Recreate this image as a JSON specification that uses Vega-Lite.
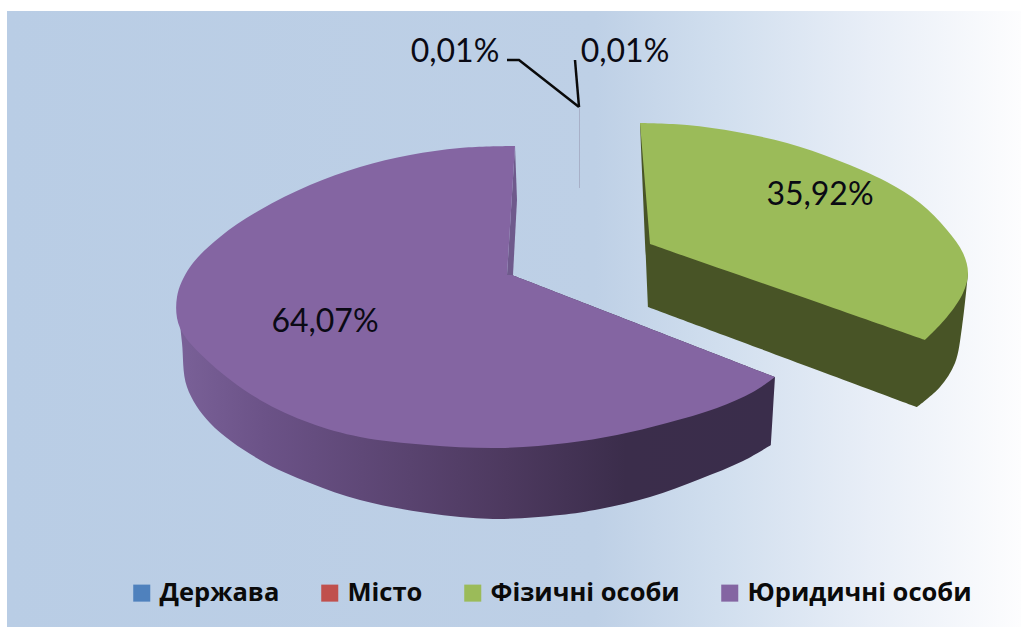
{
"$schema":"https://vega.github.io/schema/vega-lite/v6.json",
"width":1021,"height":627,"padding":0,"autosize":"none",
"background":"white",
"view":{"stroke":null},
"datasets":{
"panel":[{"x":0.7,"x2":102.1,"y":1.1,"y2":62.7}],
"shares":[
{"slice":"Держава","share":0.01,"label":"0,01%","x":45.5,"y":5.2},
{"slice":"Місто","share":0.01,"label":"0,01%","x":62.5,"y":5.2},
{"slice":"Фізичні особи","share":35.92,"label":"35,92%","x":82.0,"y":19.5},
{"slice":"Юридичні особи","share":64.07,"label":"64,07%","x":32.5,"y":32.2}
],
"leaders":[
{"leader":"Держава","i":1,"x":50.7,"y":6.0},{"leader":"Держава","i":2,"x":51.9,"y":6.0},{"leader":"Держава","i":3,"x":57.9,"y":10.7},
{"leader":"Місто","i":1,"x":57.9,"y":10.7},{"leader":"Місто","i":2,"x":57.5,"y":6.0}
],
"sliver":[{"slice":"Держава","x":57.95,"y":10.7,"y2":18.8}],
"outlines":[
{"slice":"Фізичні особи","part":"side","i":1,"x":64.0,"y":12.3},{"slice":"Фізичні особи","part":"side","i":1.5,"x":64.0,"y":12.3},{"slice":"Фізичні особи","part":"side","i":3,"x":64.8,"y":30.7},{"slice":"Фізичні особи","part":"side","i":3.5,"x":64.8,"y":30.7},{"slice":"Фізичні особи","part":"side","i":4,"x":91.7,"y":40.7},{"slice":"Фізичні особи","part":"side","i":4.5,"x":91.7,"y":40.7},{"slice":"Фізичні особи","part":"side","i":5,"x":94.0,"y":38.7},{"slice":"Фізичні особи","part":"side","i":6,"x":95.5,"y":36.3},{"slice":"Фізичні особи","part":"side","i":7,"x":96.2,"y":32.7},{"slice":"Фізичні особи","part":"side","i":9,"x":96.8,"y":27.3},{"slice":"Фізичні особи","part":"side","i":9.5,"x":96.8,"y":27.3},{"slice":"Фізичні особи","part":"side","i":10,"x":80.0,"y":20.0},
{"slice":"Фізичні особи","part":"top","i":1,"x":64.0,"y":12.3},{"slice":"Фізичні особи","part":"top","i":1.5,"x":64.0,"y":12.3},{"slice":"Фізичні особи","part":"top","i":2,"x":68.7,"y":12.5},{"slice":"Фізичні особи","part":"top","i":3,"x":73.7,"y":13.2},{"slice":"Фізичні особи","part":"top","i":4,"x":78.7,"y":14.3},{"slice":"Фізичні особи","part":"top","i":5,"x":83.7,"y":16.0},{"slice":"Фізичні особи","part":"top","i":6,"x":88.7,"y":18.2},{"slice":"Фізичні особи","part":"top","i":7,"x":92.0,"y":20.3},{"slice":"Фізичні особи","part":"top","i":8,"x":94.7,"y":23.0},{"slice":"Фізичні особи","part":"top","i":9,"x":96.3,"y":25.3},{"slice":"Фізичні особи","part":"top","i":10,"x":96.8,"y":27.3},{"slice":"Фізичні особи","part":"top","i":11,"x":96.3,"y":29.3},{"slice":"Фізичні особи","part":"top","i":12,"x":94.7,"y":31.7},{"slice":"Фізичні особи","part":"top","i":13,"x":92.5,"y":34.0},{"slice":"Фізичні особи","part":"top","i":13.5,"x":92.5,"y":34.0},{"slice":"Фізичні особи","part":"top","i":14,"x":65.0,"y":24.4},{"slice":"Фізичні особи","part":"top","i":14.5,"x":65.0,"y":24.4},
{"slice":"Юридичні особи","part":"side","i":1,"x":17.7,"y":29.7},{"slice":"Юридичні особи","part":"side","i":1.5,"x":17.9,"y":31.5},{"slice":"Юридичні особи","part":"side","i":2,"x":18.2,"y":34.3},{"slice":"Юридичні особи","part":"side","i":3,"x":18.7,"y":38.7},{"slice":"Юридичні особи","part":"side","i":4,"x":21.0,"y":42.3},{"slice":"Юридичні особи","part":"side","i":5,"x":26.0,"y":46.0},{"slice":"Юридичні особи","part":"side","i":6,"x":31.0,"y":48.3},{"slice":"Юридичні особи","part":"side","i":7,"x":36.0,"y":50.0},{"slice":"Юридичні особи","part":"side","i":8,"x":42.7,"y":51.3},{"slice":"Юридичні особи","part":"side","i":9,"x":49.3,"y":51.9},{"slice":"Юридичні особи","part":"side","i":10,"x":56.0,"y":51.5},{"slice":"Юридичні особи","part":"side","i":11,"x":60.0,"y":50.9},{"slice":"Юридичні особи","part":"side","i":12,"x":65.0,"y":49.7},{"slice":"Юридичні особи","part":"side","i":13,"x":70.0,"y":47.9},{"slice":"Юридичні особи","part":"side","i":14,"x":74.3,"y":46.1},{"slice":"Юридичні особи","part":"side","i":15,"x":77.1,"y":44.5},{"slice":"Юридичні особи","part":"side","i":15.5,"x":77.1,"y":44.5},{"slice":"Юридичні особи","part":"side","i":16,"x":77.5,"y":37.7},{"slice":"Юридичні особи","part":"side","i":16.5,"x":77.5,"y":37.7},{"slice":"Юридичні особи","part":"side","i":17,"x":51.2,"y":27.5},{"slice":"Юридичні особи","part":"side","i":17.5,"x":51.2,"y":27.5},
{"slice":"Юридичні особи","part":"wall","i":1,"x":51.5,"y":14.6},{"slice":"Юридичні особи","part":"wall","i":2,"x":51.7,"y":20.0},{"slice":"Юридичні особи","part":"wall","i":3,"x":51.3,"y":27.5},{"slice":"Юридичні особи","part":"wall","i":4,"x":50.7,"y":27.5},
{"slice":"Юридичні особи","part":"top","i":1,"x":51.5,"y":14.6},{"slice":"Юридичні особи","part":"top","i":1.5,"x":51.5,"y":14.6},{"slice":"Юридичні особи","part":"top","i":2,"x":46.0,"y":14.8},{"slice":"Юридичні особи","part":"top","i":3,"x":41.0,"y":15.5},{"slice":"Юридичні особи","part":"top","i":4,"x":36.0,"y":16.7},{"slice":"Юридичні особи","part":"top","i":5,"x":31.0,"y":18.5},{"slice":"Юридичні особи","part":"top","i":6,"x":26.0,"y":21.0},{"slice":"Юридичні особи","part":"top","i":7,"x":22.0,"y":23.7},{"slice":"Юридичні особи","part":"top","i":8,"x":19.0,"y":26.7},{"slice":"Юридичні особи","part":"top","i":9,"x":17.7,"y":29.7},{"slice":"Юридичні особи","part":"top","i":10,"x":18.0,"y":32.8},{"slice":"Юридичні особи","part":"top","i":11,"x":21.0,"y":36.3},{"slice":"Юридичні особи","part":"top","i":12,"x":26.0,"y":40.0},{"slice":"Юридичні особи","part":"top","i":13,"x":31.0,"y":42.3},{"slice":"Юридичні особи","part":"top","i":14,"x":36.0,"y":43.7},{"slice":"Юридичні особи","part":"top","i":15,"x":42.7,"y":44.5},{"slice":"Юридичні особи","part":"top","i":16,"x":50.0,"y":44.8},{"slice":"Юридичні особи","part":"top","i":17,"x":56.7,"y":44.3},{"slice":"Юридичні особи","part":"top","i":18,"x":61.7,"y":43.5},{"slice":"Юридичні особи","part":"top","i":19,"x":66.7,"y":42.3},{"slice":"Юридичні особи","part":"top","i":20,"x":71.7,"y":40.8},{"slice":"Юридичні особи","part":"top","i":21,"x":75.3,"y":39.2},{"slice":"Юридичні особи","part":"top","i":22,"x":77.5,"y":37.7},{"slice":"Юридичні особи","part":"top","i":22.5,"x":77.5,"y":37.7},{"slice":"Юридичні особи","part":"top","i":23,"x":51.2,"y":27.5},{"slice":"Юридичні особи","part":"top","i":23.5,"x":51.2,"y":27.5},{"slice":"Юридичні особи","part":"top","i":24,"x":50.7,"y":27.5},{"slice":"Юридичні особи","part":"top","i":24.5,"x":50.7,"y":27.5}
]
},
"data":{"name":"outlines"},
"encoding":{
"x":{"field":"x","type":"quantitative","axis":null,"scale":{"domain":[0,102.1],"nice":false,"zero":false}},
"y":{"field":"y","type":"quantitative","axis":null,"scale":{"domain":[62.7,0],"nice":false,"zero":false}}
},
"layer":[
{"data":{"name":"panel"},
 "mark":{"type":"rect","fill":{"gradient":"linear","x1":0,"y1":0,"x2":1,"y2":0,"stops":[{"offset":0,"color":"#b9cde5"},{"offset":0.58,"color":"#bed0e6"},{"offset":0.7,"color":"#d0deee"},{"offset":0.85,"color":"#e8eef7"},{"offset":1,"color":"#fdfdfe"}]}},
 "encoding":{"x2":{"field":"x2"},"y2":{"field":"y2"}}},
{"transform":[{"filter":"datum.part==='side' && datum.slice==='Фізичні особи'"}],
 "mark":{"type":"line","fill":"#485426","stroke":null,"interpolate":"catmull-rom"},
 "encoding":{"order":{"field":"i","type":"quantitative"}}},
{"transform":[{"filter":"datum.part==='side' && datum.slice==='Юридичні особи'"}],
 "mark":{"type":"line","stroke":null,"interpolate":"catmull-rom","fill":{"gradient":"linear","x1":0,"y1":0,"x2":1,"y2":0,"stops":[{"offset":0,"color":"#7a6198"},{"offset":0.15,"color":"#6b5287"},{"offset":0.55,"color":"#4d395f"},{"offset":0.75,"color":"#3b2d4b"},{"offset":1,"color":"#3a2d4b"}]}},
 "encoding":{"order":{"field":"i","type":"quantitative"}}},
{"transform":[{"filter":"datum.part==='wall'"}],
 "mark":{"type":"line","fill":"#6f5a8c","stroke":null},
 "encoding":{"order":{"field":"i","type":"quantitative"}}},
{"transform":[{"filter":"datum.part==='top'"}],
 "mark":{"type":"line","stroke":null,"interpolate":"catmull-rom"},
 "encoding":{
  "order":{"field":"i","type":"quantitative"},
  "detail":{"field":"slice"},
  "fill":{"field":"slice","type":"nominal","scale":{"domain":["Держава","Місто","Фізичні особи","Юридичні особи"],"range":["#4f81bd","#c0504d","#9bbb59","#8465a2"]},
   "legend":{"title":null,"orient":"none","legendX":129,"legendY":580,"direction":"horizontal","columns":4,"symbolType":"square","symbolSize":290,"symbolStrokeWidth":0,"labelFont":"Open Sans","labelFontWeight":"bold","labelFontSize":25.5,"labelColor":"#0a0a0a","labelOffset":5,"columnPadding":37,"labelLimit":400,"symbolOpacity":1}}
 }},
{"data":{"name":"sliver"},
 "mark":{"type":"rule","color":"#a8b0c8","strokeWidth":1},
 "encoding":{"y2":{"field":"y2"}}},
{"data":{"name":"leaders"},
 "mark":{"type":"line","color":"#0a0a0a","strokeWidth":2.5},
 "encoding":{"detail":{"field":"leader"},"order":{"field":"i","type":"quantitative"}}},
{"data":{"name":"shares"},
 "mark":{"type":"text","font":"Lato","fontSize":32,"color":"#0a0a14","align":"center","baseline":"middle"},
 "encoding":{"text":{"field":"label"}}}
]
}
